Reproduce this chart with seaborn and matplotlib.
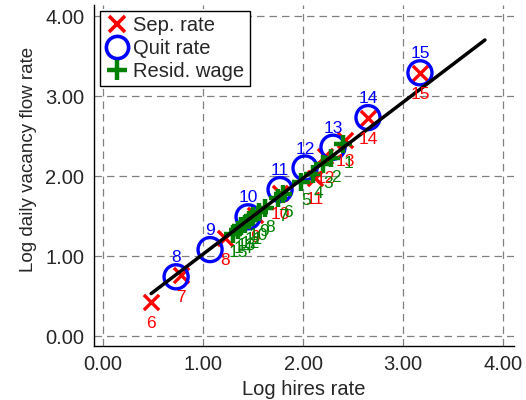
import numpy as np
import pandas as pd
import seaborn as sns
import matplotlib
matplotlib.use("Agg")
import matplotlib.pyplot as plt
from matplotlib.lines import Line2D

# Separation-rate bins (labelled 6..15)
sep_x = [0.48, 0.78, 1.22, 1.52, 1.77, 2.12, 2.22, 2.42, 2.65, 3.17]
sep_y = [0.43, 0.76, 1.22, 1.51, 1.79, 1.98, 2.25, 2.45, 2.73, 3.29]
sep_lab = [6, 7, 8, 9, 10, 11, 12, 13, 14, 15]

# Quit-rate bins (labelled 8..15)
quit_x = [0.73, 1.07, 1.45, 1.77, 2.02, 2.30, 2.65, 3.17]
quit_y = [0.74, 1.08, 1.49, 1.83, 2.10, 2.36, 2.73, 3.29]
quit_lab = [8, 9, 10, 11, 12, 13, 14, 15]

# Residual-wage bins (labelled 1..15)
wage_x = [2.40, 2.28, 2.20, 2.10, 1.98, 1.80, 1.75, 1.62, 1.56, 1.50, 1.46, 1.42, 1.38, 1.35, 1.30]
wage_y = [2.40, 2.22, 2.15, 2.02, 1.93, 1.78, 1.73, 1.60, 1.55, 1.50, 1.45, 1.40, 1.37, 1.33, 1.28]
wage_lab = list(range(1, 16))

# Fitted line end points
fit_x = [0.48, 3.82]
fit_y = [0.53, 3.70]

ticks = [0, 1, 2, 3, 4]
tick_labels = ["0.00", "1.00", "2.00", "3.00", "4.00"]

sns.set_style("white")
plt.rcParams["font.family"] = ["Liberation Sans", "DejaVu Sans"]

fig = plt.figure(figsize=(5.26, 4.00), dpi=100)
ax = fig.add_axes([0.179, 0.136, 0.798, 0.852])

sep = pd.DataFrame({"x": sep_x, "y": sep_y})
qr = pd.DataFrame({"x": quit_x, "y": quit_y})
wg = pd.DataFrame({"x": wage_x, "y": wage_y})
fit = pd.DataFrame({"x": fit_x, "y": fit_y})

sns.scatterplot(data=sep, x="x", y="y", ax=ax, marker="x", s=120,
                color="#ff0000", linewidth=2.4, zorder=3)
sns.scatterplot(data=qr, x="x", y="y", ax=ax, marker="o", s=300,
                facecolor="none", edgecolor="#0000ff", linewidth=2.4, zorder=4)
sns.scatterplot(data=wg, x="x", y="y", ax=ax, marker="+", s=170,
                color="#008000", linewidth=3.2, zorder=5)
sns.lineplot(data=fit, x="x", y="y", ax=ax, color="black", linewidth=2.5,
             zorder=6)

for x, y, t in zip(sep_x, sep_y, sep_lab):
    ax.annotate(str(t), (x, y), xytext=(0, -22), textcoords="offset pixels",
                ha="center", va="center", color="#ff0000", fontsize=12.5, zorder=7)
for x, y, t in zip(quit_x, quit_y, quit_lab):
    ax.annotate(str(t), (x, y), xytext=(0, 19), textcoords="offset pixels",
                ha="center", va="center", color="#0000ff", fontsize=12.5, zorder=7)
for x, y, t in zip(wage_x, wage_y, wage_lab):
    ax.annotate(str(t), (x, y), xytext=(5, -19), textcoords="offset pixels",
                ha="center", va="center", color="#008000", fontsize=12.5, zorder=7)

ax.set_xlim(-0.09, 4.11)
ax.set_ylim(-0.12, 4.14)
ax.set_xticks(ticks)
ax.set_xticklabels(tick_labels)
ax.set_yticks(ticks)
ax.set_yticklabels(tick_labels)
ax.tick_params(axis="both", direction="out", length=5, width=1.0,
               labelsize=14.5, color="black", pad=2)
ax.grid(True, linestyle=(0, (6, 4)), color="#808080", linewidth=0.9)
ax.set_axisbelow(True)
for side in ["top", "right"]:
    ax.spines[side].set_visible(False)
for side in ["left", "bottom"]:
    ax.spines[side].set_color("black")
    ax.spines[side].set_linewidth(1.0)

ax.set_xlabel("Log hires rate", fontsize=14.5, labelpad=4)
ax.set_ylabel("Log daily vacancy flow rate", fontsize=13.5)
ax.yaxis.set_label_coords(-0.137, 0.545)

handles = [
    Line2D([], [], marker="x", linestyle="none", color="#ff0000",
           markersize=11, markeredgewidth=2.6),
    Line2D([], [], marker="o", linestyle="none", markerfacecolor="none",
           markeredgecolor="#0000ff", markersize=16, markeredgewidth=2.6),
    Line2D([], [], marker="+", linestyle="none", color="#008000",
           markersize=14, markeredgewidth=3.2),
]
leg = ax.legend(handles, ["Sep. rate", "Quit rate", "Resid. wage"],
                loc="upper left", bbox_to_anchor=(0.0, 1.0), fontsize=14.5,
                frameon=True, fancybox=False, framealpha=1,
                edgecolor="black", handletextpad=0.2, borderpad=0.25,
                labelspacing=0.2, handlelength=1.2, borderaxespad=0.3)
leg.get_frame().set_linewidth(1.0)

fig.savefig("out.png", dpi=100)
